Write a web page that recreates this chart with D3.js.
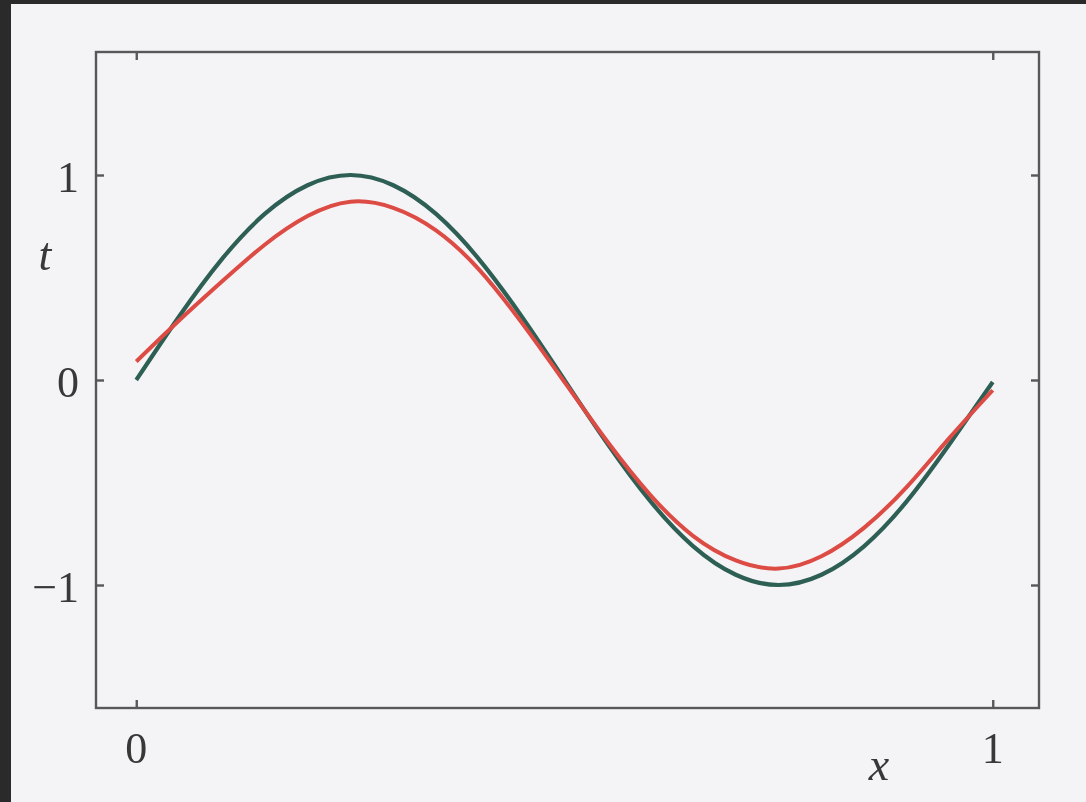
<!DOCTYPE html>
<html>
<head>
<meta charset="utf-8">
<script src="https://cdn.jsdelivr.net/npm/d3@7"></script>
<style>
  html, body { margin: 0; padding: 0; background: #2a2a2a; }
  svg { display: block; }
</style>
</head>
<body>
<svg id="chart" width="1086" height="802"></svg>
<script>
// Sample positions along x
const xs = [0, 0.05, 0.10, 0.15, 0.20, 0.25, 0.30, 0.35, 0.40, 0.45, 0.50,
            0.55, 0.60, 0.65, 0.70, 0.75, 0.80, 0.85, 0.90, 0.95, 1.00];
// True curve (green)
const trueT = [0, 0.31, 0.59, 0.81, 0.95, 1.00, 0.95, 0.81, 0.59, 0.31, 0,
               -0.31, -0.59, -0.81, -0.95, -1.00, -0.95, -0.81, -0.59, -0.31, -0.01];
// Fitted curve (red)
const fitT = [0.09, 0.29, 0.48, 0.66, 0.80, 0.87, 0.84, 0.73, 0.54, 0.28, -0.01,
              -0.30, -0.56, -0.76, -0.88, -0.92, -0.86, -0.72, -0.52, -0.28, -0.05];
const xTicks = [0, 1];
const yTicks = [-1, 0, 1];

const svg = d3.select("#chart");
const W = 1086, H = 802;

// page
svg.append("rect").attr("x", 11).attr("y", 4).attr("width", W - 11).attr("height", H - 4)
  .attr("fill", "#f4f4f6");

const frame = { left: 96, right: 1039, top: 52, bottom: 708 };
const x = d3.scaleLinear().domain([-0.047, 1.054]).range([frame.left, frame.right]);
const y = d3.scaleLinear().domain([-1.6, 1.6]).range([frame.bottom, frame.top]);

const defs = svg.append("defs");
defs.append("filter").attr("id", "soft")
  .append("feGaussianBlur").attr("stdDeviation", 0.6);

const g = svg.append("g").attr("filter", "url(#soft)");

// curves
const line = d3.line()
  .x((d, i) => x(xs[i]))
  .y(d => y(d))
  .curve(d3.curveNatural);

g.append("path").datum(trueT)
  .attr("d", line).attr("fill", "none")
  .attr("stroke", "#2e5f54").attr("stroke-width", 4.2);
g.append("path").datum(fitT)
  .attr("d", line).attr("fill", "none")
  .attr("stroke", "#dd4b45").attr("stroke-width", 4);

// box frame
g.append("rect")
  .attr("x", frame.left).attr("y", frame.top)
  .attr("width", frame.right - frame.left).attr("height", frame.bottom - frame.top)
  .attr("fill", "none").attr("stroke", "#58585a").attr("stroke-width", 2.4);

// inward ticks on all four sides
const tl = 8;
const axisStyle = sel => {
  sel.select(".domain").remove();
  sel.selectAll(".tick line").attr("stroke", "#58585a").attr("stroke-width", 2.4);
  sel.selectAll(".tick text").remove();
};
g.append("g").attr("transform", `translate(0,${frame.bottom})`)
  .call(d3.axisBottom(x).tickValues(xTicks).tickSize(-tl)).call(axisStyle);
g.append("g").attr("transform", `translate(0,${frame.top})`)
  .call(d3.axisTop(x).tickValues(xTicks).tickSize(-tl)).call(axisStyle);
g.append("g").attr("transform", `translate(${frame.left},0)`)
  .call(d3.axisLeft(y).tickValues(yTicks).tickSize(-tl)).call(axisStyle);
g.append("g").attr("transform", `translate(${frame.right},0)`)
  .call(d3.axisRight(y).tickValues(yTicks).tickSize(-tl)).call(axisStyle);

// tick labels
const font = "Liberation Serif, serif";
const fmt = d => d < 0 ? "\u2212" + Math.abs(d) : String(d);
g.selectAll(".xl").data(xTicks).enter().append("text")
  .attr("x", d => x(d)).attr("y", 763)
  .attr("text-anchor", "middle")
  .style("font-family", font).attr("font-size", 44).attr("fill", "#383838")
  .text(fmt);
g.selectAll(".yl").data(yTicks).enter().append("text")
  .attr("x", 79).attr("y", d => y(d) + 17)
  .attr("text-anchor", "end")
  .style("font-family", font).attr("font-size", 44).attr("fill", "#383838")
  .text(fmt);

// axis titles
g.append("text").attr("x", 879).attr("y", 780)
  .attr("text-anchor", "middle").attr("font-style", "italic")
  .style("font-family", font).attr("font-size", 46).attr("fill", "#383838")
  .text("x");
g.append("text").attr("x", 45).attr("y", 270)
  .attr("text-anchor", "middle").attr("font-style", "italic")
  .style("font-family", font).attr("font-size", 46).attr("fill", "#383838")
  .text("t");
</script>
</body>
</html>
